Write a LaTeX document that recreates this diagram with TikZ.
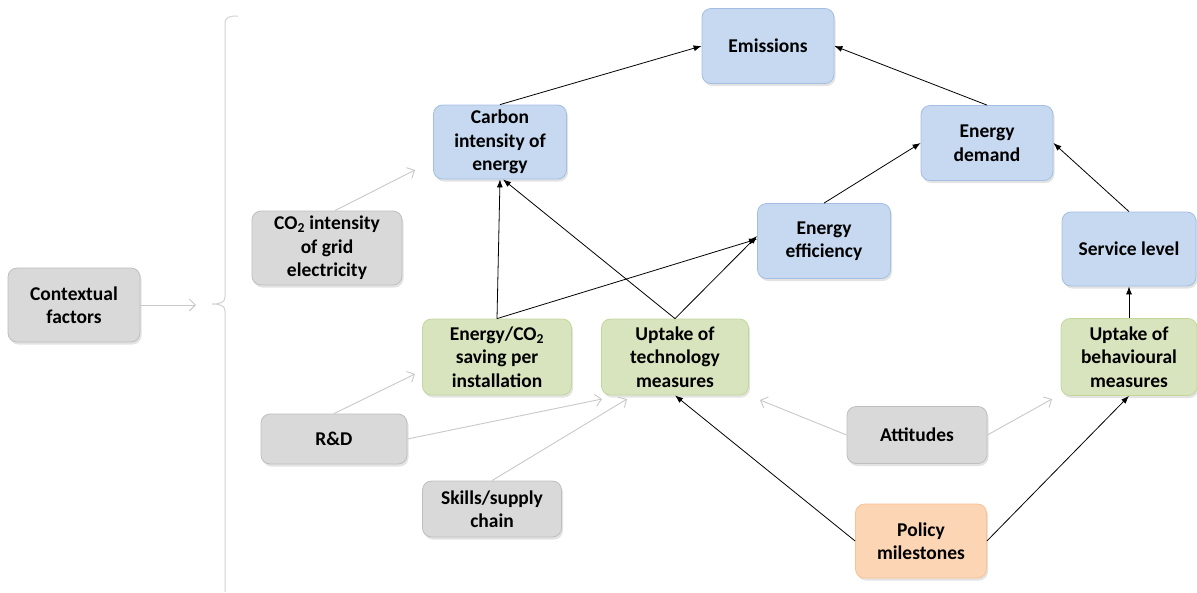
\documentclass[tikz,border=0pt]{standalone}
\usepackage{fontspec}
\setmainfont{Carlito}
\usetikzlibrary{arrows.meta,shadows}

\definecolor{bluefill}{HTML}{C6D9F1}
\definecolor{blueline}{HTML}{A3BEE0}
\definecolor{greenfill}{HTML}{D7E4BD}
\definecolor{greenline}{HTML}{C4D79B}
\definecolor{greyfill}{HTML}{D9D9D9}
\definecolor{greyline}{HTML}{BFBFBF}
\definecolor{orangefill}{HTML}{FCD5B4}
\definecolor{orangeline}{HTML}{F9C294}
\definecolor{cuegrey}{HTML}{C8C8C8}
\definecolor{bracegrey}{HTML}{D2D2D2}

\tikzset{
  box/.style={rounded corners=9pt, line width=0.8pt, align=center, inner sep=0pt,
    font=\bfseries\fontsize{19.5}{23.5}\selectfont,
    drop shadow={shadow xshift=1.5pt, shadow yshift=-2.5pt, opacity=0.22}},
  bluebox/.style={box, fill=bluefill, draw=blueline},
  greenbox/.style={box, fill=greenfill, draw=greenline},
  greybox/.style={box, fill=greyfill, draw=greyline},
  orangebox/.style={box, fill=orangefill, draw=orangeline},
  link/.style={draw=black, line width=0.8pt, -{Latex[length=8pt,width=6pt]}},
  cue/.style={draw=cuegrey, line width=0.9pt, -{Straight Barb[length=6pt,width=12pt]}},
}

\begin{document}
\begin{tikzpicture}[x=1pt,y=-1pt]
\useasboundingbox (0,0) rectangle (1197,592);

% outcome chain
\node[bluebox, minimum width=132pt, minimum height=75pt] (emis)    at (768,46)   {Emissions};
\node[bluebox, minimum width=133pt, minimum height=74pt] (carbon)  at (500,142)  {Carbon\\intensity of\\energy};
\node[bluebox, minimum width=132pt, minimum height=75pt] (demand)  at (987,143)  {Energy\\demand};
\node[bluebox, minimum width=133pt, minimum height=75pt] (eff)     at (824,241)  {Energy\\efficiency};
\node[bluebox, minimum width=134pt, minimum height=74pt] (service) at (1129,249) {Service level};

% uptake drivers
\node[greenbox, minimum width=149pt, minimum height=76pt] (saving) at (497,357)  {Energy/CO\textsubscript{2}\\saving per\\installation};
\node[greenbox, minimum width=147pt, minimum height=76pt] (tech)   at (675,357)  {Uptake of\\technology\\measures};
\node[greenbox, minimum width=136pt, minimum height=77pt] (behav)  at (1129,357) {Uptake of\\behavioural\\measures};

% contextual factors
\node[greybox, minimum width=132pt, minimum height=74pt] (ctx)    at (74,305)  {Contextual\\factors};
\node[greybox, minimum width=150pt, minimum height=74pt] (co2g)   at (327,248) {CO\textsubscript{2} intensity\\of grid\\electricity};
\node[greybox, minimum width=146pt, minimum height=50pt] (rd)     at (334,439) {R\&D};
\node[greybox, minimum width=139pt, minimum height=56pt] (skills) at (492,509) {Skills/supply\\chain};
\node[greybox, minimum width=140pt, minimum height=57pt] (att)    at (917,435) {Attitudes};

% policy
\node[orangebox, minimum width=131pt, minimum height=74pt] (policy) at (921,541) {Policy\\milestones};

% free ends of the contextual cues
\coordinate (ctxend)    at (196,305);
\coordinate (co2end)    at (415,170);
\coordinate (rdsave)    at (415,374);
\coordinate (rdtech)    at (602,399);
\coordinate (skilltech) at (627,399);
\coordinate (atttech)   at (760,400);
\coordinate (attbehav)  at (1052,399);

% brace grouping the contextual factors
\draw[bracegrey, line width=1pt]
  (238,16) .. controls (229,16) and (225,17) .. (225,24) -- (225,297)
  .. controls (225,302) and (221,304) .. (212,304)
  .. controls (221,304) and (225,306) .. (225,311) -- (225,592);

% causal links
\draw[link] (carbon.north) -- (emis.west);
\draw[link] (demand.north) -- (emis.east);
\draw[link] (eff.north) -- (demand.west);
\draw[link] (service.north) -- (demand.east);
\draw[link] (saving.north) -- (carbon.south);
\draw[link] (tech.north) -- ([xshift=3pt]carbon.south);
\draw[link] (saving.north) -- ([yshift=2pt]eff.west);
\draw[link] (tech.north) -- ([yshift=5pt]eff.west);
\draw[link] (behav.north) -- (service.south);
\draw[link] (policy.west) -- (tech.south);
\draw[link] (policy.east) -- (behav.south);

% contextual cues
\draw[cue] (ctx.east) -- (ctxend);
\draw[cue] ([xshift=8pt]co2g.north) -- (co2end);
\draw[cue] (rd.north) -- (rdsave);
\draw[cue] (rd.east) -- (rdtech);
\draw[cue] (skills.north) -- (skilltech);
\draw[cue] (att.west) -- (atttech);
\draw[cue] (att.east) -- (attbehav);
\end{tikzpicture}
\end{document}
